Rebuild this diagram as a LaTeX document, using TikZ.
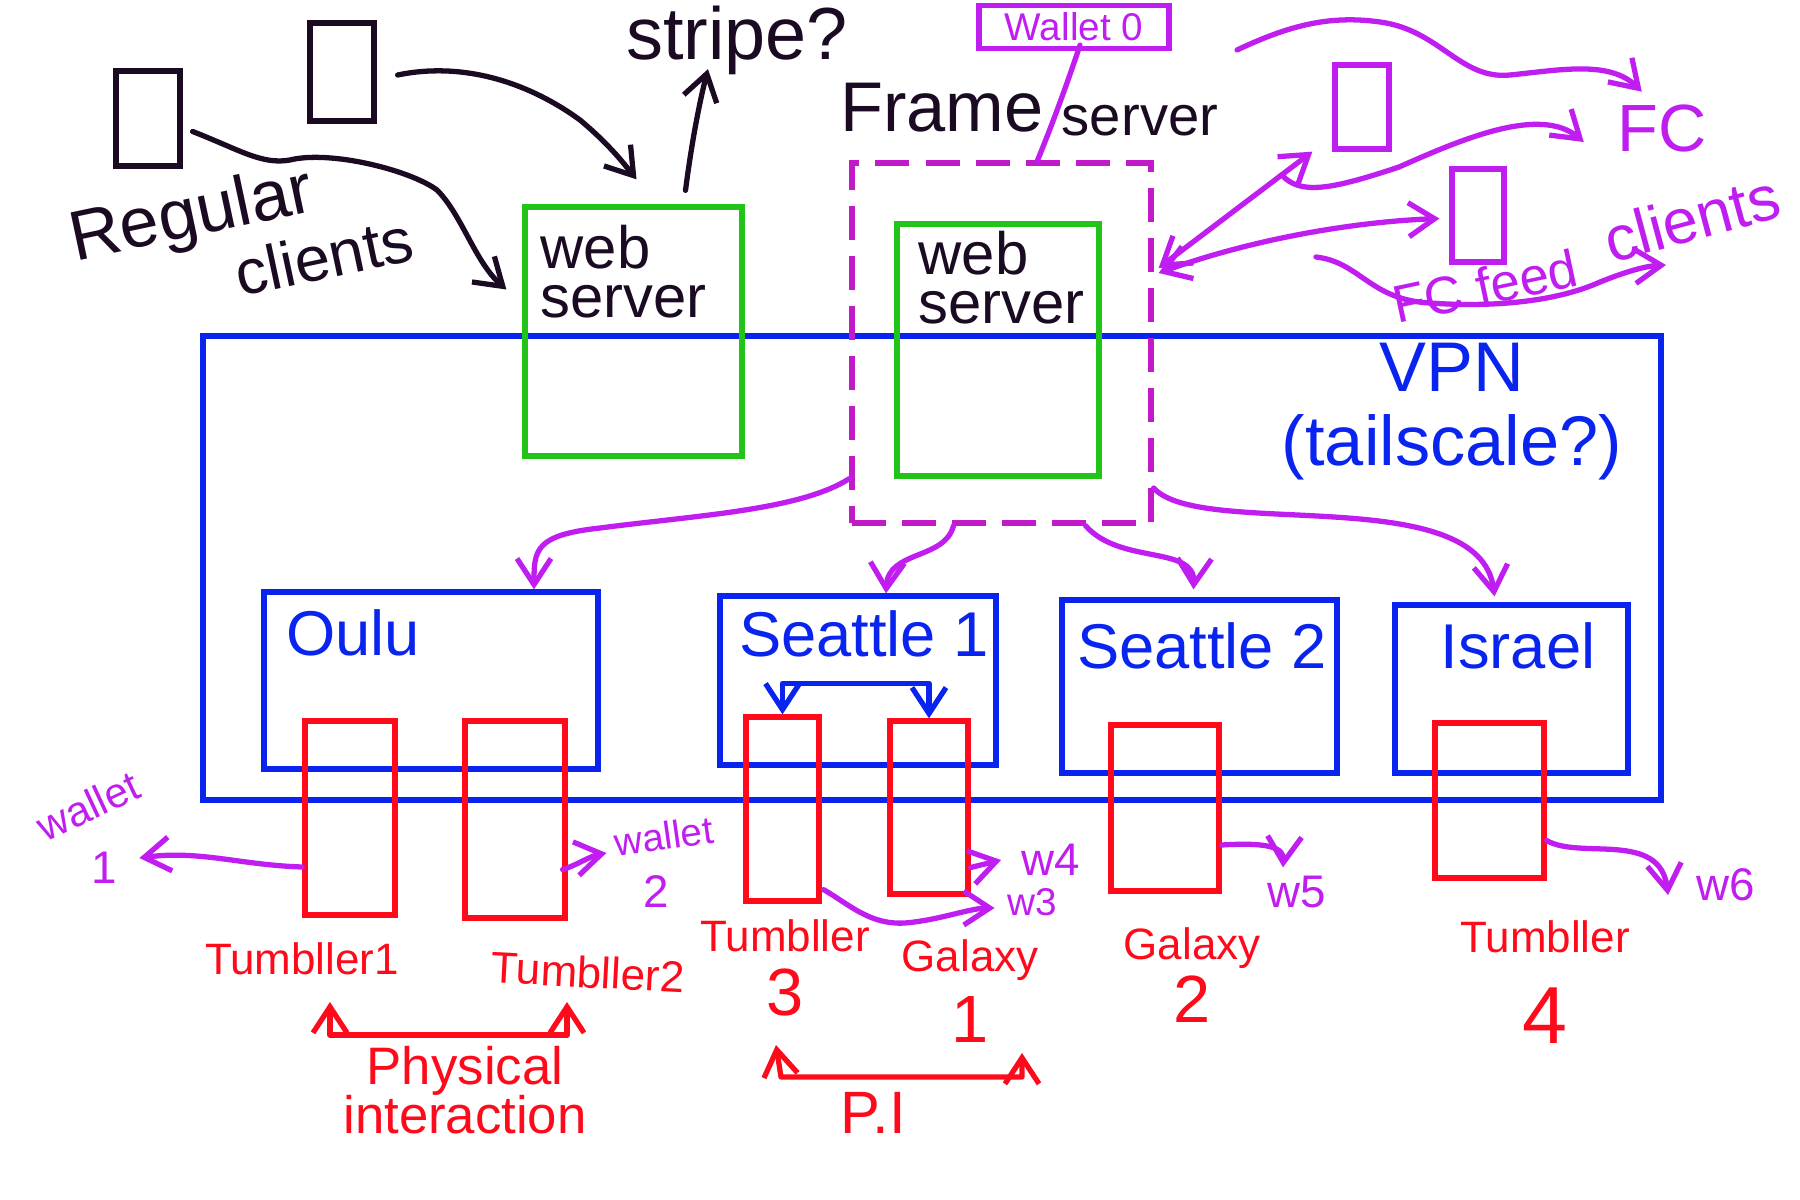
\documentclass[tikz,border=0pt]{standalone}
\usepackage{xcolor}
\usepackage{fontspec}
\setmainfont{Liberation Sans}
\usepackage{tikz}
\usetikzlibrary{calc}
\usetikzlibrary{arrows.meta}
\usetikzlibrary{fit}
\definecolor{ink}{HTML}{1A0A22}
\definecolor{srvgreen}{HTML}{22C41A}
\definecolor{vpnblue}{HTML}{0A24F0}
\definecolor{devred}{HTML}{FF0A1A}
\definecolor{fcpurple}{HTML}{C01EF0}
\definecolor{framepink}{HTML}{C21AC8}
\newcommand{\txtsize}[2]{\fontsize{#1}{#2}\selectfont}
\newcommand{\bignum}[1]{{\txtsize{19}{19}#1}}
\tikzset{
  box/.style={draw, line width=1.5pt, inner sep=0pt},
  client/.style={box, draw=ink},
  websrv/.style={box, draw=srvgreen},
  site/.style={box, draw=vpnblue},
  dev/.style={box, draw=devred},
  fcbox/.style={box, draw=fcpurple},
  pen/.style={line width=1.5pt, line cap=round, line join=round},
  txt/.style={inner sep=0pt, align=center},
  devlbl/.style={txt, devred, font=\txtsize{12.5}{18}},
}

\begin{document}
\begin{tikzpicture}[x=0.01cm, y=-0.01cm, >={Straight Barb[length=2.6mm,width=3.4mm]}]
\useasboundingbox (0,0) rectangle (1800,1200);

\node[client, fit={(116,71) (180,166)}] (c1) {};
\node[client, fit={(310,23) (374,121)}] (c2) {};
\node[txt, ink, rotate=12, font=\txtsize{20}{20}] (reg) at (192,218) {Regular};
\node[txt, ink, rotate=12, font=\txtsize{18}{18}] (regcli) at (324,256) {clients};

\node[site, fit={(203,336) (1661,800)}] (vpn) {};
\node[txt, vpnblue, font=\txtsize{20}{21}] (vpnlbl) at (1452,412) {VPN\\(tailscale?)};

\node[websrv, fit={(525,207) (742,456)}] (ws1) {};
\node[websrv, fit={(897,224) (1099,476)}] (ws2) {};
\node[txt, ink, align=left, anchor=north west, font=\txtsize{17}{14}] (ws1lbl) at (540,224) {web\\server};
\node[txt, ink, align=left, anchor=north west, font=\txtsize{17}{14}] (ws2lbl) at (918,230) {web\\server};

\node[box, draw=framepink, dash pattern=on 3.4mm off 1.6mm, fit={(852,163) (1151,523)}] (fs) {};
\node[txt, ink, font=\txtsize{20}{20}] (fslbl1) at (942,108) {Frame};
\node[txt, ink, font=\txtsize{16}{16}] (fslbl2) at (1140,121) {server};
\node[box, fcpurple, minimum width=19mm, minimum height=4.3mm, font=\txtsize{11}{11}] (w0) at (1074,27) {Wallet 0};
\node[txt, ink, font=\txtsize{21}{21}] (stripe) at (737,40) {stripe?};

\draw[pen, ink, ->] ($(c1.east)+(10,13)$) .. controls (240,150) and (262,165) .. (290,160) .. controls (330,150) and (410,170) .. (437,190) .. controls (462,215) and (475,262) .. ($(ws1.west)+(-16,-42)$);
\draw[pen, ink, ->] ($(c2.east)+(21,3)$) .. controls (460,62) and (525,80) .. (580,120) .. controls (610,145) and (625,165) .. ($(ws1.north)+(3,-25)$);
\draw[pen, ink, ->] ($(ws1.north)+(52,-14)$) .. controls (692,140) and (700,100) .. ($(stripe.south)+(-29,-6)$);
\draw[pen, fcpurple] ($(w0.south)+(6,-6)$) .. controls (1065,90) and (1050,130) .. ($(fs.north)+(36,0)$);

\foreach \nm/\xa/\ya/\xb/\yb/\lx/\ly/\name in {oulu/264/592/598/769/353/633/Oulu, sea1/720/596/996/765/864/634/Seattle 1, sea2/1062/600/1337/773/1202/646/Seattle 2, isr/1395/605/1628/773/1518/646/Israel} {
  \node[site, fit={(\xa,\ya) (\xb,\yb)}] (\nm) {};
  \node[txt, vpnblue, font=\txtsize{18}{18}] (\nm lbl) at (\lx,\ly) {\name};
}
\foreach \nm/\xa/\ya/\xb/\yb in {t1/305/721/395/915, t2/465/721/565/918, t3/746/717/819/901, g1/890/721/968/894, g2/1111/725/1219/891, t4/1435/723/1544/878} {
  \node[dev, fit={(\xa,\ya) (\xb,\yb)}] (\nm) {};
}
\draw[pen, vpnblue, <->] (t3.north) -- ++(0,-31) -| (g1.north);

\draw[pen, fcpurple, ->] ($(fs.south west)+(0,-47)$) .. controls (800,510) and (700,515) .. (600,528) .. controls (535,535) and (534,550) .. ($(oulu.north)+(103,0)$);
\draw[pen, fcpurple, ->] ($(fs.south)+(-48,0)$) .. controls (945,560) and (888,550) .. ($(sea1.north)+(28,0)$);
\draw[pen, fcpurple, ->] ($(fs.south)+(84,0)$) .. controls (1120,565) and (1195,545) .. ($(sea2.north)+(-6,-8)$);
\draw[pen, fcpurple, ->] ($(fs.east)+(0,145)$) .. controls (1200,540) and (1480,480) .. ($(isr.north)+(-17,-6)$);

\node[fcbox, fit={(1335,65) (1389,149)}] (fc1) {};
\node[fcbox, fit={(1452,169) (1504,262)}] (fc2) {};
\node[txt, fcpurple, font=\txtsize{19}{19}] (fclbl) at (1662,128) {FC};
\node[txt, fcpurple, rotate=15, font=\txtsize{18}{18}] (fccli) at (1692,218) {clients};
\node[txt, fcpurple, rotate=12, font=\txtsize{15}{15}] (feedlbl) at (1485,286) {FC feed};
\coordinate (topstart) at (1237,50);
\coordinate (feedstart) at (1316,257);
\coordinate (feedend) at (1666,265);

\draw[pen, fcpurple, <->] ($(fs.east)+(5,-75)$) -- ($(fc1.south west)+(-20,0)$) coordinate[pos=0.8] (dsplit);
\draw[pen, fcpurple, <->] ($(fs.east)+(5,-70)$) .. controls (1250,240) and (1350,222) .. ($(fc2.west)+(-10,3)$);
\draw[pen, fcpurple, ->] (dsplit) .. controls (1300,195) and (1330,190) .. (1399,167) .. controls (1460,140) and (1540,105) .. ($(fclbl.west)+(-33,14)$);
\draw[pen, fcpurple, ->] (topstart) .. controls (1290,25) and (1330,15) .. (1380,22) .. controls (1440,30) and (1460,80) .. (1510,75) .. controls (1560,70) and (1610,60) .. ($(fclbl.north west)+(25,-12)$);
\draw[pen, fcpurple, ->] (feedstart) .. controls (1360,262) and (1370,300) .. (1430,303) .. controls (1500,308) and (1560,300) .. (1600,282) .. controls (1625,272) and (1645,266) .. (feedend);

\node[txt, fcpurple, rotate=25, font=\txtsize{12}{12}] (wal1) at (88,806) {wallet};
\node[txt, fcpurple, font=\txtsize{13}{13}] (wal1n) at (104,868) {1};
\node[txt, fcpurple, rotate=8, font=\txtsize{11}{11}] (wal2) at (664,836) {wallet};
\node[txt, fcpurple, font=\txtsize{13}{13}] (wal2n) at (656,892) {2};
\node[txt, fcpurple, font=\txtsize{11}{11}] (w3) at (1032,902) {w3};
\node[txt, fcpurple, font=\txtsize{13}{13}] (w4) at (1051,860) {w4};
\node[txt, fcpurple, font=\txtsize{13}{13}] (w5) at (1297,892) {w5};
\node[txt, fcpurple, font=\txtsize{13}{13}] (w6) at (1726,885) {w6};
\draw[pen, fcpurple, ->] ($(t1.west)+(0,49)$) .. controls (240,865) and (200,850) .. ($(wal1n.east)+(22,-10)$);
\draw[pen, fcpurple, ->] ($(t2.east)+(-5,50)$) .. controls (575,866) and (590,856) .. ($(wal2.west)+(-8,10)$);
\draw[pen, fcpurple, ->] ($(t3.south east)+(2,-14)$) .. controls (850,905) and (870,925) .. (905,923) .. controls (940,920) and (970,908) .. ($(w3.west)+(-12,6)$);
\draw[pen, fcpurple, ->] ($(g1.east)+(0,60)$) -- ($(w4.west)+(-20,0)$);
\draw[pen, fcpurple, ->] ($(g2.east)+(0,37)$) .. controls (1270,842) and (1284,848) .. ($(w5.north)+(-14,-8)$);
\draw[pen, fcpurple, ->] ($(t4.east)+(0,40)$) .. controls (1580,860) and (1660,830) .. ($(w6.west)+(-28,10)$);

\node[devlbl] (t1lbl) at (302,959) {Tumbller1};
\node[devlbl, rotate=-3] (t2lbl) at (588,972) {Tumbller2};
\node[devlbl] (t3lbl) at (785,968) {Tumbller\\\bignum{3}};
\node[devlbl] (g1lbl) at (970,991) {Galaxy\\[2pt]\bignum{1}};
\node[devlbl] (g2lbl) at (1192,975) {Galaxy\\\bignum{2}};
\node[devlbl] (t4lbl) at (1545,982) {Tumbller\\[8pt]{\txtsize{23}{23}4}};
\node[txt, devred, font=\txtsize{15}{14}] (physlbl) at (465,1090) {Physical\\interaction};
\node[txt, devred, font=\txtsize{17}{17}] (pilbl) at (873,1113) {P.I};
\coordinate (phys1) at (330,1002);
\coordinate (phys2) at (567,1002);
\coordinate (pia) at (776,1045);
\coordinate (pib) at (1022,1053);
\draw[pen, devred, <->] (phys1) -- ++(0,33) -| (phys2);
\draw[pen, devred, <->] (pia) -- ++(5,32) -| (pib);
\end{tikzpicture}
\end{document}
